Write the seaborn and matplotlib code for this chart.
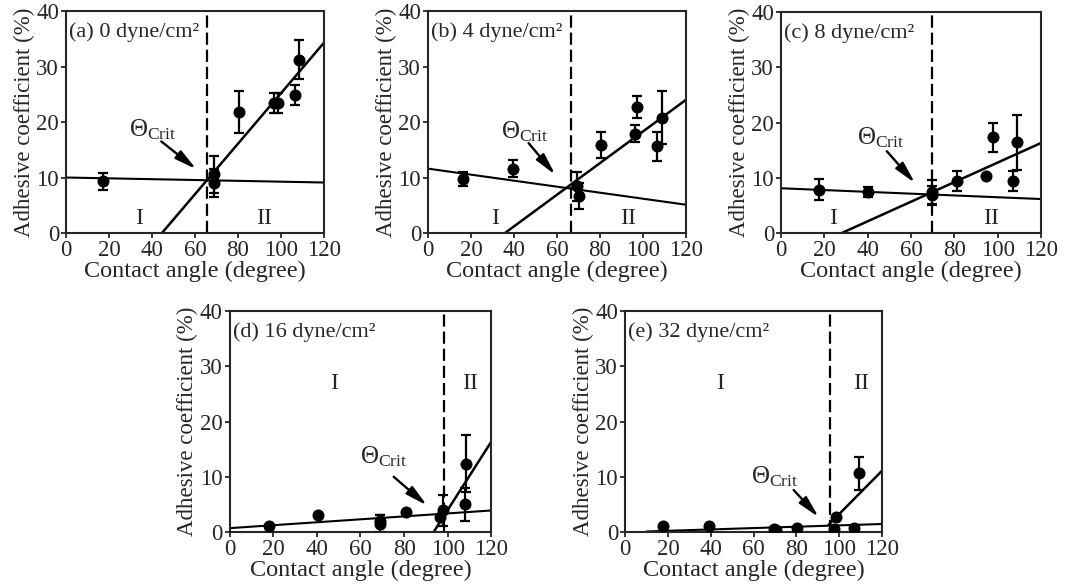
import matplotlib
matplotlib.use("Agg")
import matplotlib.pyplot as plt
import seaborn as sns
import numpy as np
import pandas as pd

# ---------------- data ----------------
labels = ["(a) 0 dyne/cm²", "(b) 4 dyne/cm²", "(c) 8 dyne/cm²",
          "(d) 16 dyne/cm²", "(e) 32 dyne/cm²"]

angle_a = [17, 69, 69, 80.5, 96.5, 98.5, 106.5, 108.5]
coef_a = [9.3, 10.6, 9.0, 21.8, 23.4, 23.4, 24.8, 31.2]
err_a = [1.5, 3.3, 2.6, 3.8, 1.8, 1.8, 1.8, 3.5]

angle_b = [16.5, 39.5, 69.2, 70.2, 80.5, 96.3, 97.4, 106.7, 108.7]
coef_b = [9.7, 11.6, 8.4, 6.7, 15.9, 17.9, 22.7, 15.6, 20.8]
err_b = [1.3, 1.5, 2.6, 2.4, 2.3, 1.5, 2.0, 2.6, 4.7]

angle_c = [17.5, 40, 69.5, 69.5, 81.2, 94.8, 98, 107.2, 109]
coef_c = [7.8, 7.4, 7.4, 6.8, 9.4, 10.4, 17.3, 9.4, 16.4]
err_c = [1.9, 0.9, 2.2, 1.7, 1.8, 0, 2.6, 1.8, 5.0]

angle_d = [18, 40.5, 69, 69, 81, 96.4, 97.9, 107.7, 108.5]
coef_d = [1.0, 3.0, 1.5, 2.0, 3.6, 2.7, 3.9, 5.0, 12.4]
err_d = [0, 0, 1.5, 1.0, 0, 0, 2.8, 3.0, 5.1]

angle_e = [17.5, 39, 69.5, 70.5, 80.3, 97.4, 98.6, 107, 109]
coef_e = [1.0, 1.0, 0.6, 0.3, 0.8, 0.6, 2.7, 0.8, 10.6]
err_e = [0, 0, 0, 0, 0, 0, 0, 0, 3.0]

# fitted lines: regime I and regime II (end points)
fit1_x = [[0, 120], [0, 120], [0, 120], [0, 120], [10, 120]]
fit1_y = [[10.0, 9.1], [11.6, 5.1], [8.1, 6.15], [0.7, 3.9], [0.1, 1.45]]
fit2_x = [[44.6, 120], [35.8, 120], [28, 120], [93.5, 120], [95, 120]]
fit2_y = [[0, 34.3], [0, 24.0], [0, 16.3], [0, 16.4], [1.3, 11.1]]

# critical angle (dashed line)
crit = [65.7, 66.5, 69.8, 98.2, 95.5]

# region label positions (x, y) for I and II, Theta label and arrow
reg1 = [(34, 2.7), (31, 2.7), (24, 2.7), (47.7, 26.9), (44.4, 26.9)]
reg2 = [(92, 2.7), (93.3, 2.7), (97, 2.7), (110.4, 26.9), (110, 26.9)]
theta_pos = [(29.5, 18.6), (34, 18.3), (35, 17.2), (60, 13.6), (59, 10.0)]
arrow_from = [(44.3, 16.5), (46.8, 16.2), (48.8, 14.8), (75.2, 10.0), (78.7, 7.6)]
arrow_to = [(60.6, 11.5), (59.2, 10.5), (61.8, 9.05), (90.5, 4.8), (90.4, 2.7)]

xticks = [0, 20, 40, 60, 80, 100, 120]
yticks = [0, 10, 20, 30, 40]

# ---------------- style ----------------
sns.set_style("ticks")
plt.rcParams["font.family"] = ["Liberation Serif", "DejaVu Serif"]
plt.rcParams["mathtext.fontset"] = "custom"
plt.rcParams["mathtext.rm"] = "Liberation Serif"
plt.rcParams["mathtext.it"] = "Liberation Serif:italic"
plt.rcParams["axes.linewidth"] = 1.5
plt.rcParams["xtick.major.width"] = 1.3
plt.rcParams["ytick.major.width"] = 1.3
plt.rcParams["xtick.major.size"] = 3.5
plt.rcParams["ytick.major.size"] = 3.5
plt.rcParams["xtick.direction"] = "out"
plt.rcParams["ytick.direction"] = "out"

fig = plt.figure(figsize=(10.67, 5.88), dpi=100)
rects = [
    (0.0619, 0.6037, 0.2418, 0.3776),
    (0.4011, 0.6037, 0.2418, 0.3776),
    (0.7320, 0.6037, 0.2437, 0.3759),
    (0.2151, 0.0952, 0.2455, 0.3759),
    (0.5858, 0.0952, 0.2409, 0.3759),
]

angles = [angle_a, angle_b, angle_c, angle_d, angle_e]
coefs = [coef_a, coef_b, coef_c, coef_d, coef_e]
errs = [err_a, err_b, err_c, err_d, err_e]

for i in range(5):
    ax = fig.add_axes(rects[i])
    df = pd.DataFrame({"angle": angles[i], "coef": coefs[i], "err": errs[i]})
    # fitted lines
    l1 = pd.DataFrame({"x": fit1_x[i], "y": fit1_y[i]})
    l2 = pd.DataFrame({"x": fit2_x[i], "y": fit2_y[i]})
    sns.lineplot(data=l1, x="x", y="y", ax=ax, color="black", lw=1.5)
    sns.lineplot(data=l2, x="x", y="y", ax=ax, color="black", lw=1.8)
    # error bars
    e = df[df["err"] > 0]
    ax.errorbar(e["angle"], e["coef"], yerr=e["err"], fmt="none",
                ecolor="black", elinewidth=1.6, capsize=3.5, capthick=1.6)
    sns.scatterplot(data=df, x="angle", y="coef", ax=ax, color="black",
                    s=75, edgecolor="black", linewidth=0, zorder=5)
    ax.axvline(crit[i], color="black", lw=1.6, linestyle=(0, (5.5, 2.2)))

    ax.set_xlim(0, 120)
    ax.set_ylim(0, 40)
    ax.set_xticks(xticks)
    ax.set_yticks(yticks)
    ax.tick_params(labelsize=16.5, pad=1.5)
    for s in ax.spines.values():
        s.set_visible(True)
        s.set_linewidth(1.5)
    ax.set_xlabel("Contact angle (degree)", fontsize=17.5, labelpad=0)
    ax.set_ylabel("Adhesive coefficient (%)", fontsize=16.5, labelpad=1)

    ax.text(0.012, 0.905, labels[i], transform=ax.transAxes, fontsize=16,
            ha="left", va="center")
    ax.text(*reg1[i], "I", fontsize=17, ha="center", va="center")
    ax.text(*reg2[i], "II", fontsize=17, ha="center", va="center")
    ax.text(*theta_pos[i], "Θ$_{\\rm Crit}$", fontsize=18, ha="left", va="center")
    ax.annotate("", xy=arrow_to[i], xytext=arrow_from[i],
                arrowprops=dict(arrowstyle="-|>,head_length=1.3,head_width=0.3",
                                color="black", lw=1.7, shrinkA=0, shrinkB=0))

fig.savefig("out.png", dpi=100)
